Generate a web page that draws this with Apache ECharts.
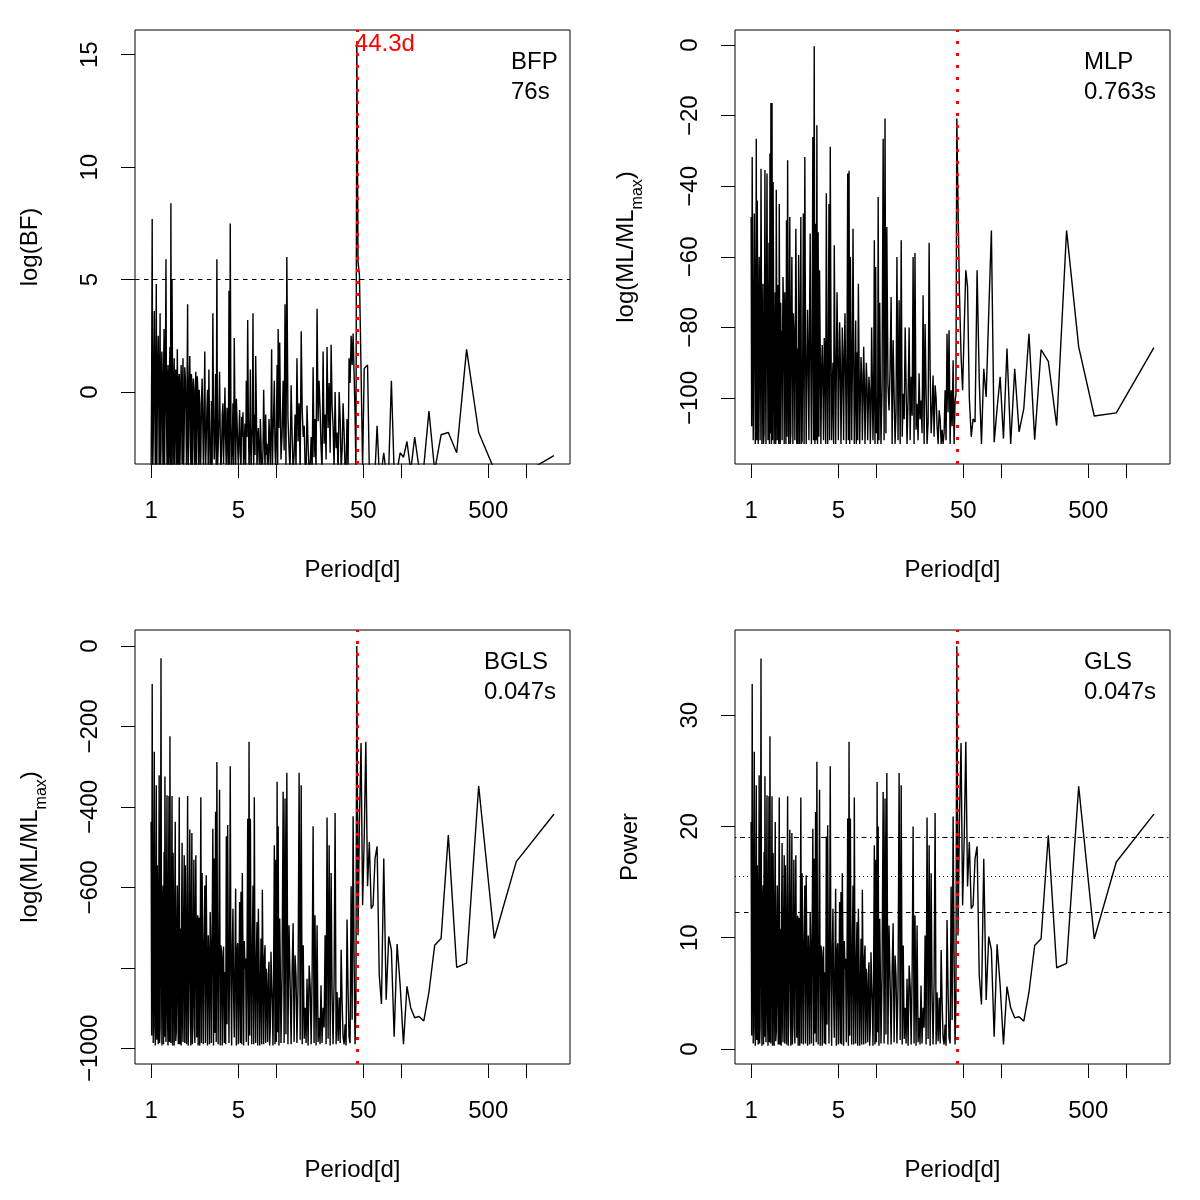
<!DOCTYPE html>
<html>
<head>
<meta charset="utf-8">
<title>Periodograms</title>
<script src="https://cdn.jsdelivr.net/npm/echarts@6/dist/echarts.min.js"></script>
<style>
  html, body { margin: 0; padding: 0; background: #fff; }
  #chart { width: 1200px; height: 1200px; }
</style>
</head>
<body>
<div id="chart"></div>
<script>
// period grid [d] (subset of the frequency grid)
const periods = [
  // 1 - 2.5 d
  1.00, 1.01, 1.02, 1.03, 1.04, 1.05, 1.06, 1.07, 1.08, 1.09,
  1.10, 1.11, 1.12, 1.13, 1.14, 1.15, 1.16, 1.17, 1.18, 1.19,
  1.20, 1.21, 1.22, 1.232, 1.245, 1.257, 1.27, 1.28, 1.29, 1.302,
  1.315, 1.327, 1.34, 1.352, 1.365, 1.377, 1.39, 1.402, 1.415, 1.427,
  1.44, 1.455, 1.47, 1.485, 1.50, 1.515, 1.53, 1.545, 1.56, 1.575,
  1.59, 1.605, 1.62, 1.635, 1.65, 1.665, 1.68, 1.695, 1.71, 1.725,
  1.74, 1.755, 1.77, 1.785, 1.80, 1.82, 1.84, 1.86, 1.88, 1.90,
  1.92, 1.94, 1.96, 1.98, 2.00, 2.02, 2.04, 2.06, 2.08, 2.10,
  2.12, 2.14, 2.16, 2.18, 2.20, 2.22, 2.24, 2.26, 2.28, 2.30,
  2.32, 2.34, 2.36, 2.38, 2.40, 2.425, 2.45, 2.475, 2.50, 2.53,
  // 2.5 - 11 d
  2.56, 2.59, 2.62, 2.655, 2.69, 2.725, 2.76, 2.795, 2.83, 2.865,
  2.90, 2.935, 2.97, 3.005, 3.04, 3.08, 3.12, 3.16, 3.20, 3.24,
  3.28, 3.32, 3.36, 3.40, 3.44, 3.485, 3.53, 3.575, 3.62, 3.665,
  3.71, 3.755, 3.80, 3.85, 3.90, 3.95, 4.00, 4.05, 4.10, 4.15,
  4.20, 4.25, 4.30, 4.355, 4.41, 4.465, 4.52, 4.575, 4.63, 4.69,
  4.75, 4.81, 4.87, 4.93, 4.99, 5.05, 5.11, 5.175, 5.24, 5.305,
  5.37, 5.435, 5.50, 5.57, 5.64, 5.71, 5.78, 5.855, 5.93, 6.005,
  6.08, 6.155, 6.23, 6.305, 6.38, 6.46, 6.54, 6.62, 6.70, 6.785,
  6.87, 6.955, 7.04, 7.13, 7.22, 7.31, 7.40, 7.49, 7.58, 7.675,
  7.77, 7.865, 7.96, 8.06, 8.16, 8.26, 8.36, 8.465, 8.57, 8.675,
  8.78, 8.89, 9.00, 9.11, 9.22, 9.335, 9.45, 9.57, 9.69, 9.81,
  9.93, 10.06, 10.2, 10.3, 10.4, 10.55, 10.7, 10.82, 10.95, 11.17,
  // 11 - 44 d
  11.4, 11.6, 11.8, 12.0, 12.2, 12.45, 12.7, 12.95, 13.2, 13.45,
  13.7, 13.95, 14.2, 14.45, 14.7, 15.0, 15.3, 15.6, 15.9, 16.2,
  16.5, 16.8, 17.1, 17.4, 17.7, 18.05, 18.4, 18.75, 19.1, 19.45,
  19.8, 20.15, 20.5, 20.9, 21.3, 21.7, 22.1, 22.5, 22.9, 23.35,
  23.8, 24.25, 24.7, 25.15, 25.6, 26.1, 26.6, 27.1, 27.6, 28.1,
  28.6, 29.15, 29.7, 30.25, 30.8, 31.4, 32.0, 32.6, 33.2, 33.8,
  34.4, 35.05, 35.7, 36.35, 37.0, 37.7, 38.4, 39.15, 39.9, 40.65,
  41.4, 42.15, 42.9, 43.6,
  // long periods
  44.3, 45.3, 46.5, 47.9, 49.3, 50.8, 52.3, 54.0, 55.8, 57.8,
  59.8, 62.0, 64.4, 67.0, 69.8, 72.8, 76.1, 79.8, 83.8, 88.2,
  93.1, 98.5, 104.7, 111.7, 119.6, 128.8, 139.6, 152.3, 167.5, 186.1,
  209.4, 239.3, 279.2, 335, 418.8, 558.3, 837.5, 1675
];

// BFP: log(BF)
const bfp = [
  -3.5, 0.8, 7.7, -3.6, -2.0, 1.1, 3.6, -0.6, -3.4, 0.9,
  4.8, -3.7, -1.0, 1.3, 2.5, -0.2, -3.5, 0.6, 3.5, -3.6,
  -2.5, 1.0, 1.8, -0.4, -3.6, 0.7, 2.8, -3.7, -1.5, 1.2,
  5.9, -0.8, -3.3, 0.5, 1.2, -3.6, -2.8, 0.9, 2.0, -3.5,
  8.4, -3.4, 5.0, 0.2, -3.5, 0.4, 1.5, -3.7, -2.0, 1.0,
  0.5, -3.5, 1.9, -0.3, -3.4, 0.6, 0.8, -3.6, -2.6, 0.3,
  1.2, -1.0, -3.2, 0.2, 1.5, -3.6, -1.8, 1.1, 0.6, -0.9,
  -3.5, 0.4, 3.9, -3.7, -2.2, 0.5, 1.6, -1.2, -3.4, 0.8,
  0.4, -3.6, -2.5, 0.6, 0.2, -1.4, -3.6, -0.2, 0.9, -3.5,
  -1.5, 0.7, 0.3, -1.6, -3.3, 0.1, -0.5, -3.6, -2.9, -0.4,

  0.6, -1.2, -3.4, -0.9, 1.8, -3.6, -2.2, -0.8, 0.1, -3.5,
  1.0, -1.5, -3.5, -3.7, -0.4, -3.4, 3.5, -1.1, -3.0, -1.7,
  0.8, -3.6, 5.9, -3.5, -2.5, -1.3, 0.9, -1.9, -3.6, -2.6,
  -1.0, -0.5, -3.2, -1.6, 0.2, -2.1, -3.5, -0.7, -1.8, -3.7,
  4.5, -3.5, 7.5, -1.4, -3.4, -2.3, -0.5, -3.6, 2.4, -1.0,
  -3.6, -0.3, -1.2, -2.4, -3.3, -1.9, -0.8, -2.7, -3.5, -1.1,
  -2.0, -0.9, -3.6, -2.5, -1.4, -3.5, 0.5, -2.0, 3.2, -1.3,
  -3.4, -2.2, 1.0, -3.6, -2.5, -1.5, 3.5, -3.5, -1.0, -2.8,
  1.6, -0.6, -3.5, -2.0, -1.6, -2.9, -3.6, -1.2, -2.2, -3.7,
  -3.4, -2.6, 0.1, -1.8, -3.5, -1.0, -2.8, -2.3, -3.7, -3.0,
  -1.2, -2.1, -3.3, -1.4, 1.9, -3.6, -2.0, -0.9, 0.5, -2.5,
  -3.4, -1.7, 1.2, -3.5, 2.8, -1.6, 2.2, -0.4, -3.0, -1.9,

  0.5, -2.6, 3.9, -3.5, 6.0, -1.1, -2.5, -3.6, 0.3, -1.9,
  -3.5, -2.8, -1.0, -3.4, 1.5, -2.2, -0.5, -3.6, 2.7, -0.8,
  -2.0, -1.5, -3.4, -3.7, -0.6, -2.4, -3.6, -3.3, -2.0, -3.6,
  1.1, -2.9, -1.2, -3.5, 3.7, -1.3, 0.5, -0.7, -2.4, -3.5,
  1.8, -2.3, -1.0, -3.0, 2.0, -1.6, 0.4, -2.7, 2.1, -0.6,
  -1.5, -3.4, 0.0, -2.5, -1.8, -3.6, 0.0, -1.2, -3.4, -2.6,
  -0.5, -1.8, -3.5, -3.3, -1.2, -3.5, 1.5, 0.4, 2.5, 1.2,
  2.6, 0.8, -1.0, -3.4,

  15.5, 5.8, 5.2, 1.0, -3.3, 1.05, 1.1, 1.2, -3.5, -3.3,
  -3.6, -3.5, -1.5, -3.6, -3.5, -2.7, -3.6, -3.4, 0.5, -3.6,
  -3.5, -2.7, -2.9, -2.2, -3.5, -2.0, -3.4, -3.3, -0.85, -3.5,
  -1.9, -1.8, -2.7, 1.9, -1.8, -3.45, -3.8, -2.83
];

// MLP: log(ML/MLmax)
const mlp = [
  -48.7, -108, -31.7, -78, -112, -84, -47.7, -71, -113, -90,
  -26.5, -112, -44, -76, -113, -87, -60, -74, -112, -82,
  -35, -69, -113, -91, -67.6, -113, -110, -77, -35.4, -88,
  -113, -72, -36.4, -80, -112, -86, -56, -113, -30.7, -110,
  -16.4, -113, -16.4, -112, -38.8, -75, -113, -89, -70, -113,
  -41, -79, -112, -68, -80, -113, -45, -83, -113, -73,
  -90, -81, -112, -85, -65.7, -77, -113, -70, -85, -113,
  -49.6, -111, -32.6, -84, -113, -79, -48.7, -113, -110, -74,
  -60, -88, -113, -76, -80, -90, -112, -82, -52, -71,
  -113, -86, -95, -113, -59.5, -80, -113, -84, -48.7, -113,

  -112, -86, -47.7, -113, -31.7, -82, -113, -94, -75, -88,
  -112, -79, -53.4, -91, -113, -84, -26, -112, -0.3, -113,
  -50.6, -112, -22.7, -113, -53, -111, -63.8, -87, -113, -92,
  -85, -96, -112, -83, -85.5, -113, -42, -90, -113, -85,
  -45, -112, -28.8, -80, -112, -97, -90, -113, -56.7, -86,
  -113, -93, -70, -84, -112, -95, -78.5, -89, -113, -98,
  -80, -91, -112, -87, -76, -94, -113, -88, -36.4, -112,
  -35.6, -113, -60, -84, -112, -92, -52, -86, -113, -97,
  -78, -113, -87, -112, -67.6, -90, -113, -99, -88.4, -93,
  -112, -101, -85.5, -95, -113, -100, -90, -96, -112, -102,
  -94, -98, -113, -104, -80, -95, -112, -99, -55.3, -113,
  -62.9, -110, -100, -113, -43, -112, -73, -94, -113, -97,

  -26.5, -112, -20.8, -110, -51.5, -96, -103.5, -92, -71.4, -113,
  -83.6, -99, -113, -104, -60, -112, -72.3, -113, -55.3, -111,
  -98.8, -106, -80, -97, -113, -100, -80, -112, -94, -105,
  -60, -113, -58.9, -109, -101.6, -112, -93, -106, -100.7, -110,
  -70.9, -113, -79, -98, -113, -107, -56, -92, -110, -104,
  -93.6, -111, -96.4, -100, -108, -113, -103.5, -106, -113, -109,
  -113, -110, -97.8, -112, -81.8, -104, -80.8, -113, -97.8, -108,
  -89.3, -113, -101, -99,

  -20.8, -45, -70, -88, -97.8, -80, -63.8, -68.5, -100, -111,
  -105.9, -106.8, -63.8, -95, -113, -91.7, -99.7, -76, -52.5, -112.5,
  -103, -94, -111.5, -86, -113, -91.7, -109.6, -103, -81.8, -111.8,
  -86.3, -89.6, -107.8, -52.5, -85.5, -105.1, -104.2, -85.7
];

// BGLS: log(ML/MLmax)
const bgls = [
  -437, -968, -94, -683, -987, -642, -263, -943, -993, -608,
  -346, -979, -545, -708, -990, -658, -321, -987, -946, -619,
  -30, -733, -993, -644, -595, -990, -512, -971, -324, -653,
  -984, -700, -371, -913, -993, -628, -373, -984, -224, -758,
  -987, -672, -373, -993, -514, -741, -993, -639, -437, -982,
  -960, -691, -595, -877, -990, -661, -376, -990, -918, -702,
  -993, -650, -489, -929, -984, -686, -520, -987, -545, -749,
  -990, -664, -373, -993, -932, -680, -456, -827, -993, -647,
  -465, -990, -890, -716, -531, -951, -987, -677, -520, -763,
  -973, -700, -669, -993, -794, -675, -993, -727, -376, -987,

  -564, -755, -990, -736, -595, -987, -570, -796, -993, -719,
  -777, -990, -661, -752, -987, -711, -454, -993, -528, -962,
  -412, -984, -288, -774, -990, -730, -357, -993, -744, -760,
  -993, -785, -747, -987, -810, -990, -473, -940, -445, -772,
  -987, -741, -299, -838, -993, -749, -653, -868, -973, -780,
  -603, -993, -769, -738, -990, -824, -636, -987, -611, -990,
  -564, -758, -993, -733, -802, -777, -984, -799, -429, -993,
  -238, -968, -429, -783, -990, -747, -595, -990, -376, -832,
  -987, -766, -686, -993, -653, -791, -993, -854, -727, -990,
  -606, -813, -990, -774, -744, -987, -802, -866, -984, -818,
  -785, -993, -946, -760, -835, -896, -993, -788, -495, -990,
  -531, -984, -337, -960, -448, -993, -677, -805, -987, -821,

  -362, -987, -379, -965, -315, -990, -694, -830, -990, -807,
  -689, -984, -769, -821, -987, -841, -315, -979, -346, -990,
  -744, -976, -899, -987, -827, -993, -794, -846, -990, -810,
  -448, -987, -669, -993, -694, -984, -924, -990, -843, -987,
  -899, -948, -719, -990, -426, -976, -495, -993, -564, -871,
  -990, -832, -415, -990, -860, -982, -874, -987, -755, -885,
  -973, -990, -940, -993, -680, -852, -973, -987, -597, -929,
  -423, -780, -990, -879,

  0, -719, -434, -241, -644, -476, -238, -597, -487, -653,
  -644, -528, -498, -818, -890, -528, -879, -722, -755, -971,
  -741, -843, -990, -846, -899, -924, -921, -932, -860, -744,
  -727, -470, -799, -788, -348, -727, -536, -418
];

// GLS: power
const gls = [
  20.4, 1.2, 32.8, 11.5, 0.5, 13.0, 26.7, 2.1, 0.3, 14.2,
  23.7, 0.8, 16.5, 10.6, 0.4, 12.4, 24.6, 0.5, 2.0, 13.8,
  35.1, 9.7, 0.3, 12.9, 14.7, 0.4, 17.7, 1.1, 24.5, 12.6,
  0.6, 10.9, 22.8, 3.2, 0.3, 13.5, 22.7, 0.6, 28.1, 8.8,
  0.5, 11.9, 22.7, 0.3, 17.6, 9.4, 0.3, 13.1, 20.4, 0.7,
  1.5, 11.2, 14.7, 4.5, 0.4, 12.3, 22.6, 0.4, 3.0, 10.8,
  0.3, 12.7, 18.5, 2.6, 0.6, 11.4, 17.4, 0.5, 16.5, 9.1,
  0.4, 12.2, 22.7, 0.3, 2.5, 11.6, 19.7, 6.3, 0.3, 12.8,
  19.4, 0.4, 4.0, 10.3, 17.0, 1.8, 0.5, 11.7, 17.4, 8.6,
  1.0, 10.9, 12.0, 0.3, 7.5, 11.8, 0.3, 9.9, 22.6, 0.5,

  15.8, 8.9, 0.4, 9.6, 14.7, 0.5, 15.6, 7.4, 0.3, 10.2,
  8.1, 0.4, 12.3, 9.0, 0.5, 10.5, 19.8, 0.3, 17.1, 1.4,
  21.3, 0.6, 25.8, 8.2, 0.4, 9.8, 23.3, 0.3, 9.3, 8.7,
  0.3, 7.8, 9.2, 0.5, 6.9, 0.4, 19.1, 2.2, 20.1, 8.3,
  0.5, 9.4, 25.4, 5.9, 0.3, 9.1, 12.6, 4.8, 1.0, 8.0,
  14.4, 0.3, 8.4, 9.5, 0.4, 6.4, 13.2, 0.5, 14.1, 0.4,
  15.8, 8.8, 0.3, 9.7, 7.2, 8.1, 0.6, 7.3, 20.7, 0.3,
  27.6, 1.2, 20.7, 7.9, 0.4, 9.2, 14.7, 0.4, 22.6, 6.1,
  0.5, 8.5, 11.4, 0.3, 12.6, 7.6, 0.3, 5.3, 9.9, 0.4,
  14.3, 6.8, 0.4, 8.2, 9.3, 0.5, 7.2, 4.9, 0.6, 6.6,
  7.8, 0.3, 2.0, 8.7, 6.0, 3.8, 0.3, 7.7, 18.3, 0.4,
  17.0, 0.6, 24.0, 1.5, 20.0, 0.3, 11.7, 7.1, 0.5, 6.5,

  23.1, 0.5, 22.5, 1.3, 24.8, 0.4, 11.1, 6.2, 0.4, 7.0,
  11.3, 0.6, 8.4, 6.5, 0.5, 5.8, 24.8, 0.8, 23.7, 0.4,
  9.3, 0.9, 3.7, 0.5, 6.3, 0.3, 7.5, 5.6, 0.4, 6.9,
  20.0, 0.5, 12.0, 0.3, 11.1, 0.6, 2.8, 0.4, 5.7, 0.5,
  3.7, 1.9, 10.2, 0.4, 20.8, 0.9, 18.3, 0.3, 15.8, 4.7,
  0.4, 6.1, 21.2, 0.4, 5.1, 0.7, 4.6, 0.5, 8.9, 4.2,
  1.0, 0.4, 2.2, 0.3, 11.6, 5.4, 1.0, 0.5, 14.6, 2.6,
  20.9, 8.0, 0.4, 4.4,

  36.2, 10.2, 20.5, 27.5, 12.9, 19.0, 27.6, 14.6, 18.6, 12.6,
  12.9, 17.1, 18.2, 6.6, 4.0, 17.1, 4.4, 10.1, 8.9, 1.1,
  9.4, 5.7, 0.4, 5.6, 3.7, 2.8, 2.9, 2.5, 5.1, 9.3,
  9.9, 19.2, 7.3, 7.7, 23.6, 9.9, 16.8, 21.1
];

const peakPeriod = 44.3;           // red dotted line, label "44.3d"
const peakBF = 15.5;
const bfThreshold = 5;             // dashed line in BFP panel
const glsLevels = [19.05, 15.54, 12.25]; // dot-dash, dotted, dashed in GLS panel

const xTicks = [1, 5, 10, 50, 100, 500, 1000];
const xTickLabels = [1, 5, 50, 500];

const FONT = 'Liberation Sans';
const BLACK = '#000';
const RED = '#ff0000';

// panels: BFP, MLP, BGLS, GLS
const panels = [
  { values: bfp, left: 135, top: 30, min: -3.2, max: 16.1,
    ticks: [0, 5, 10, 15], labels: [0, 5, 10, 15],
    name: 'log(BF)', nameGap: 93, note: 'BFP\n76s', noteLeft: 511 },
  { values: mlp, left: 735, top: 30, min: -118.7, max: 4.3,
    ticks: [0, -20, -40, -60, -80, -100], labels: [0, -20, -40, -60, -80, -100],
    name: '{a|log(ML/ML}{s|max}{a|)}', nameGap: 89, note: 'MLP\n0.763s', noteLeft: 1084 },
  { values: bgls, left: 135, top: 630, min: -1039, max: 40,
    ticks: [0, -200, -400, -600, -800, -1000], labels: [0, -200, -400, -600, -1000],
    name: '{a|log(ML/ML}{s|max}{a|)}', nameGap: 85, note: 'BGLS\n0.047s', noteLeft: 484 },
  { values: gls, left: 735, top: 630, min: -1.35, max: 37.65,
    ticks: [0, 10, 20, 30], labels: [0, 10, 20, 30],
    name: 'Power', nameGap: 93, note: 'GLS\n0.047s', noteLeft: 1084 }
];

panels.forEach((p) => {
  if (p.values.length !== periods.length) console.error('length mismatch', p.note, p.values.length);
});

const textBase = { fontFamily: FONT, fontSize: 24, color: BLACK };
const minusFmt = (v) => (v < 0 ? '\u2212' + Math.abs(v) : String(v));

const chart = echarts.init(document.getElementById('chart'), null, { renderer: 'canvas' });

const grid = [], xAxis = [], yAxis = [], series = [], title = [];

panels.forEach((p, i) => {
  grid.push({
    left: p.left, top: p.top, width: 435, height: 434,
    show: true, borderColor: BLACK, borderWidth: 1, backgroundColor: 'transparent'
  });

  xAxis.push({
    type: 'log', logBase: 10, gridIndex: i, min: 0.743, max: 2254,
    name: 'Period[d]', nameLocation: 'middle', nameGap: 94,
    nameTextStyle: textBase,
    axisLine: { show: false, onZero: false },
    axisTick: { show: true, inside: false, length: 14, customValues: xTicks,
                lineStyle: { color: BLACK, width: 1 } },
    axisLabel: { ...textBase, margin: 35, customValues: xTickLabels,
                 formatter: (v) => String(v) },
    splitLine: { show: false },
    minorTick: { show: false }
  });

  yAxis.push({
    type: 'value', gridIndex: i, min: p.min, max: p.max,
    name: p.name, nameLocation: 'middle', nameGap: p.nameGap, nameRotate: 90,
    nameTextStyle: {
      ...textBase,
      rich: {
        a: { ...textBase, verticalAlign: 'top' },
        s: { fontFamily: FONT, fontSize: 16, color: BLACK, lineHeight: 32, verticalAlign: 'bottom' }
      }
    },
    axisLine: { show: false, onZero: false },
    axisTick: { show: true, inside: false, length: 14, customValues: p.ticks,
                lineStyle: { color: BLACK, width: 1 } },
    axisLabel: { ...textBase, rotate: 90, margin: 33, customValues: p.labels,
                 formatter: minusFmt },
    splitLine: { show: false }
  });

  // vertical red dotted line at the detected period
  const marks = [
    { xAxis: peakPeriod, lineStyle: { color: RED, type: [3, 9], width: 3 } }
  ];
  if (i === 0) {
    marks.push({ yAxis: bfThreshold, lineStyle: { color: BLACK, type: [4.5, 4.5], width: 1 } });
  }
  if (i === 3) {
    marks.push({ yAxis: glsLevels[0], lineStyle: { color: BLACK, type: [1.5, 3.5, 5, 3.5], width: 1 } });
    marks.push({ yAxis: glsLevels[1], lineStyle: { color: BLACK, type: [1, 3], width: 1 } });
    marks.push({ yAxis: glsLevels[2], lineStyle: { color: BLACK, type: [4.5, 4.5], width: 1 } });
  }

  const s = {
    type: 'line', xAxisIndex: i, yAxisIndex: i,
    data: periods.map((per, k) => [per, p.values[k]]),
    showSymbol: false, symbol: 'none', clip: true,
    lineStyle: { color: BLACK, width: 1.4 },
    animation: false,
    markLine: { silent: true, symbol: 'none', animation: false,
                label: { show: false }, data: marks }
  };
  if (i === 0) {
    s.markPoint = {
      symbol: 'circle', symbolSize: 0, silent: true, animation: false,
      data: [{
        coord: [peakPeriod, peakBF],
        label: { show: true, position: 'right', distance: 0, offset: [-2, 1],
                 formatter: peakPeriod + 'd', fontFamily: FONT, fontSize: 24, color: RED }
      }]
    };
  }
  series.push(s);

  title.push({
    text: p.note, left: p.noteLeft, top: p.top + 17, padding: 0,
    textStyle: { ...textBase, fontWeight: 'normal', lineHeight: 30 }
  });
});

chart.setOption({
  backgroundColor: '#fff',
  animation: false,
  title: title,
  grid: grid,
  xAxis: xAxis,
  yAxis: yAxis,
  series: series
});
</script>
</body>
</html>
